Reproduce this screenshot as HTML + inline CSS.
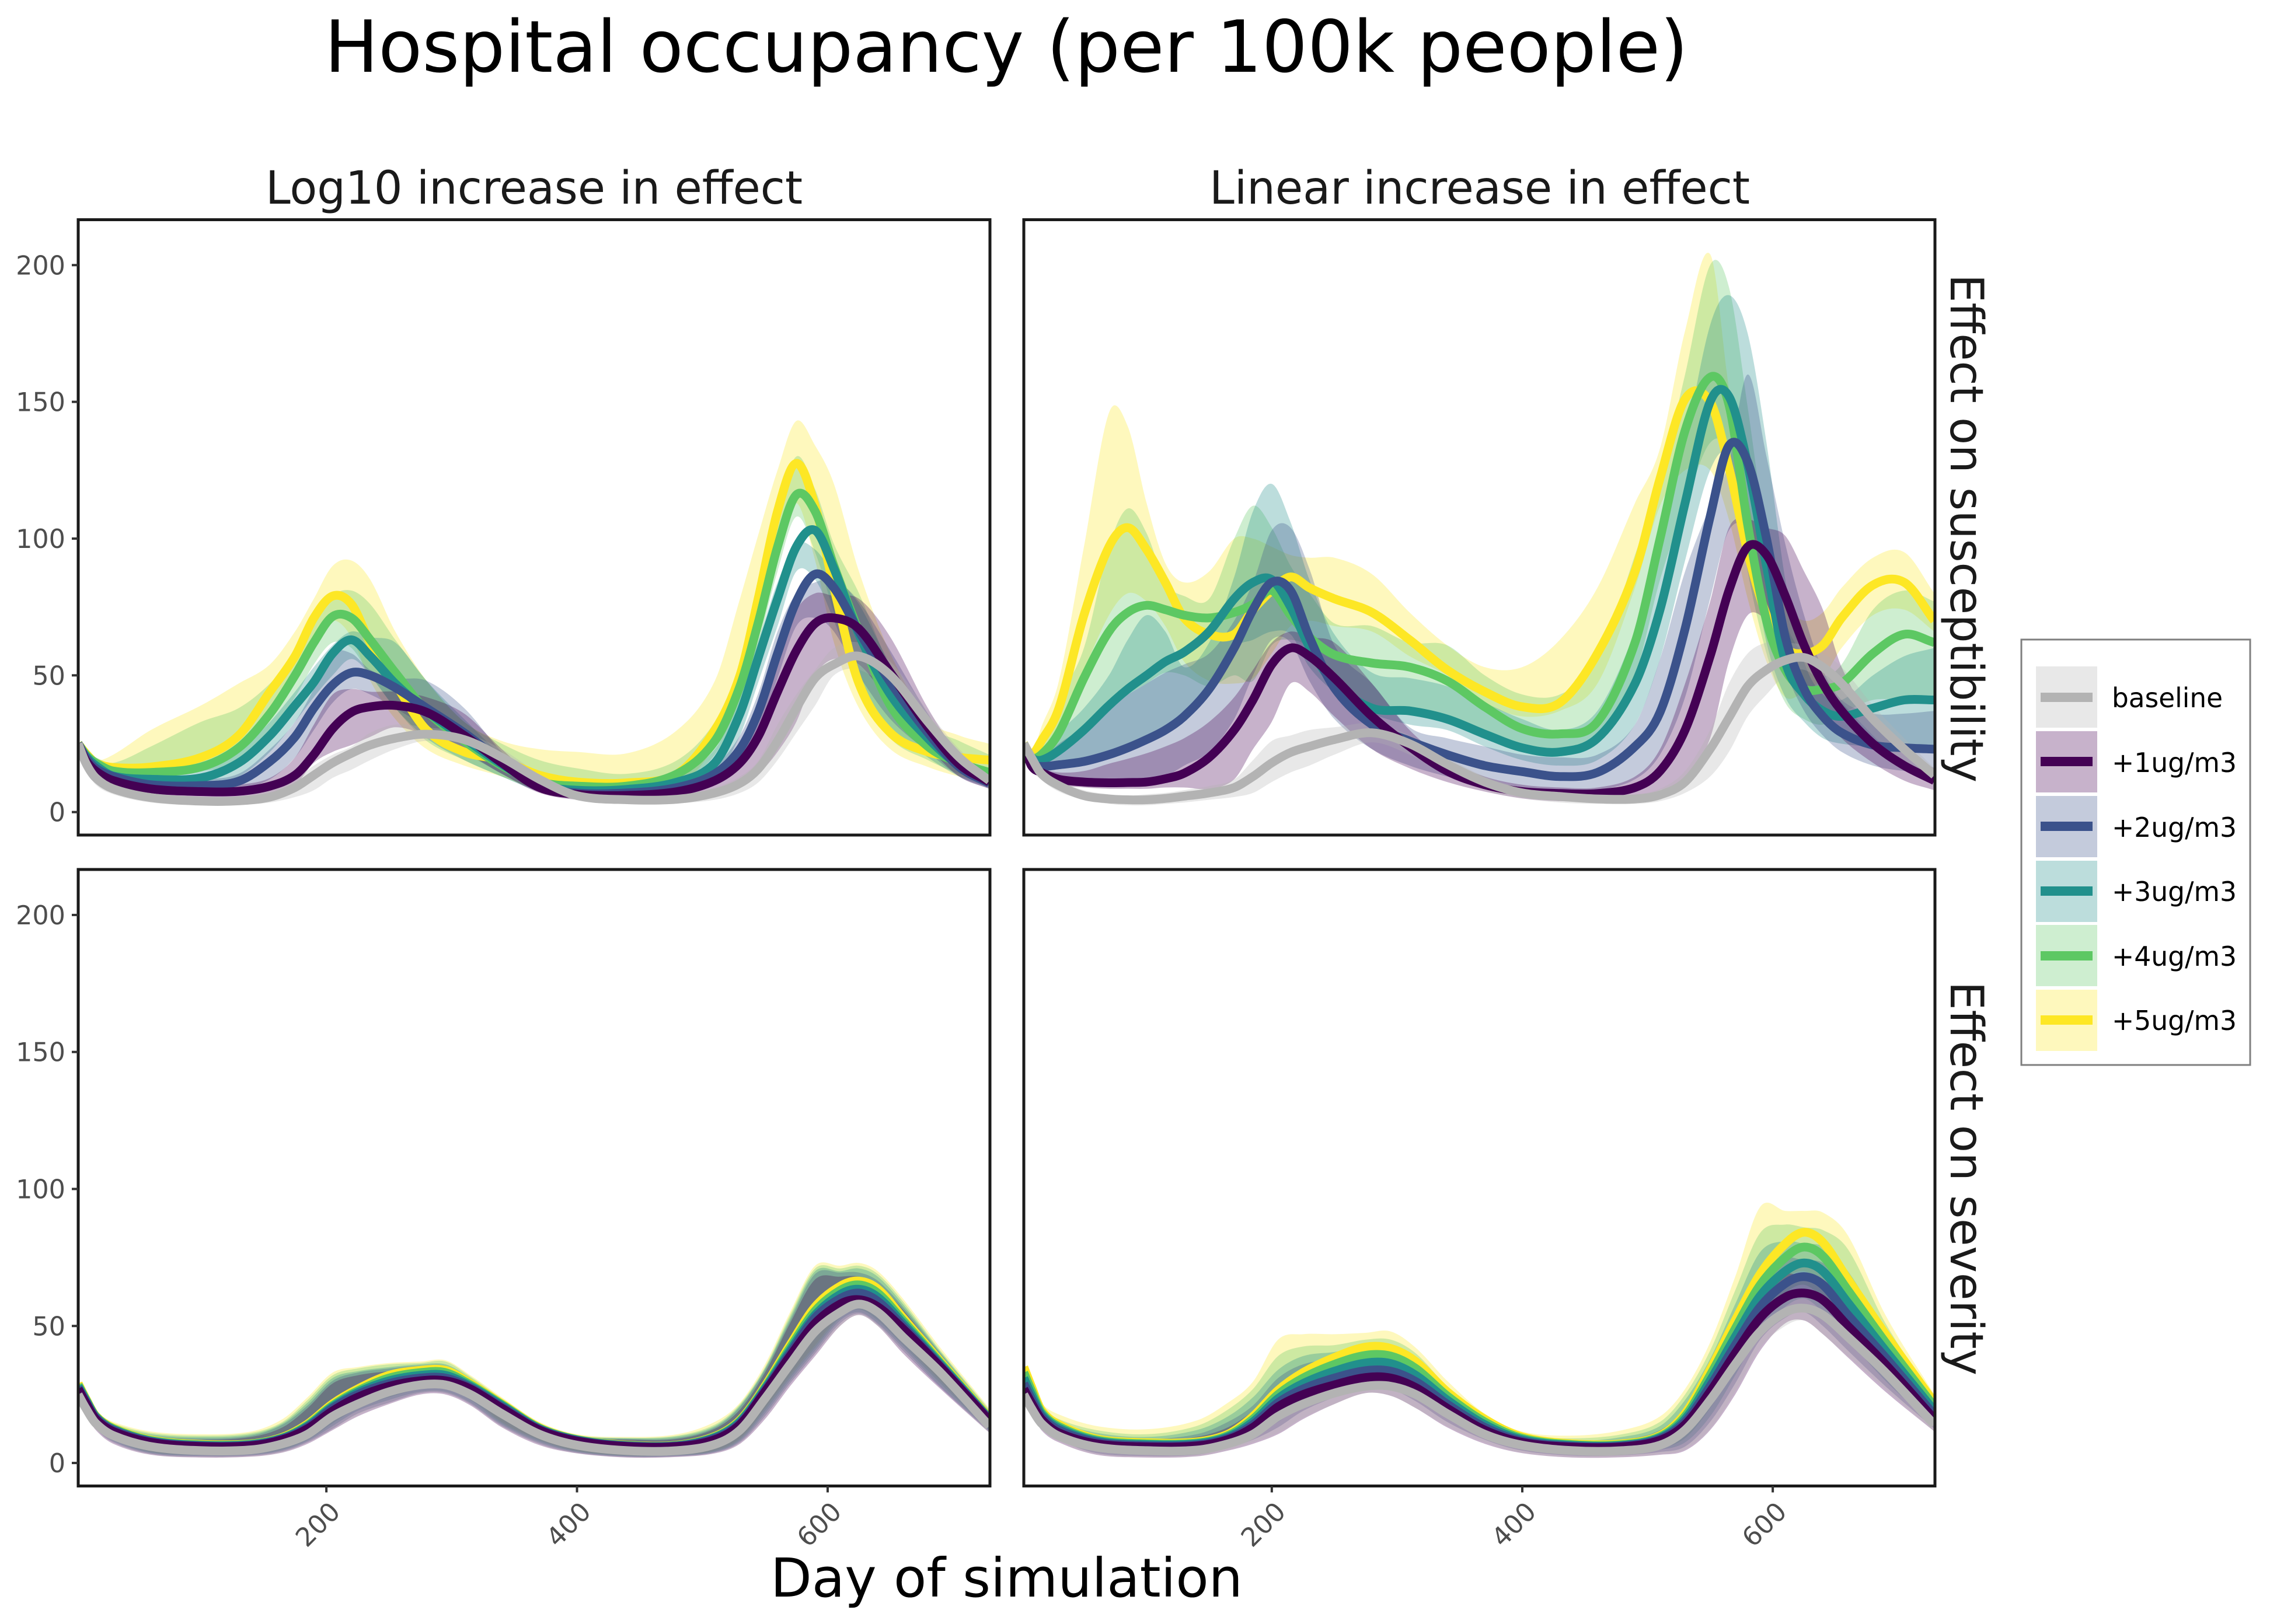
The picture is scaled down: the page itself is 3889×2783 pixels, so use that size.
<!DOCTYPE html>
<html lang="en">
<head>
<meta charset="utf-8">
<title>Hospital occupancy (per 100k people)</title>
<style>
html,body{margin:0;padding:0;background:#fff;}
svg{display:block;}
text{font-family:"DejaVu Sans","Liberation Sans",sans-serif;}
</style>
</head>
<body>
<svg id="chart" xmlns="http://www.w3.org/2000/svg" width="3889" height="2783" viewBox="0 0 3889 2783">
<rect x="0" y="0" width="3889" height="2783" fill="#fff"/>
<text x="556" y="123" font-size="123" fill="#000" textLength="2336" lengthAdjust="spacingAndGlyphs">Hospital occupancy (per 100k people)</text>
<text x="455" y="349" font-size="78" fill="#1a1a1a" textLength="920" lengthAdjust="spacingAndGlyphs">Log10 increase in effect</text>
<text x="2072" y="349" font-size="78" fill="#1a1a1a" textLength="926" lengthAdjust="spacingAndGlyphs">Linear increase in effect</text>
<text transform="translate(3342,470) rotate(90)" font-size="78" fill="#1a1a1a" textLength="871" lengthAdjust="spacingAndGlyphs">Effect on susceptibility</text>
<text transform="translate(3342,1682) rotate(90)" font-size="78" fill="#1a1a1a" textLength="675" lengthAdjust="spacingAndGlyphs">Effect on severity</text>
<text x="1320" y="2736" font-size="92" fill="#000" textLength="809" lengthAdjust="spacingAndGlyphs">Day of simulation</text>
<g id="panels"></g>
<g>
<rect x="3463" y="1096" width="392" height="729" fill="#fff" stroke="#7f7f7f" stroke-width="3"/>
<g><rect x="3488" y="1142" width="105" height="105" fill="#B3B3B3" fill-opacity="0.3"/><rect x="3496" y="1187" width="89" height="16" fill="#B3B3B3"/><text x="3618" y="1212" font-size="46" fill="#000" textLength="190" lengthAdjust="spacingAndGlyphs">baseline</text></g>
<g><rect x="3488" y="1253" width="105" height="105" fill="#440154" fill-opacity="0.3"/><rect x="3496" y="1297" width="89" height="16" fill="#440154"/><text x="3618" y="1323" font-size="46" fill="#000" textLength="214" lengthAdjust="spacingAndGlyphs">+1ug/m3</text></g>
<g><rect x="3488" y="1364" width="105" height="105" fill="#3B528B" fill-opacity="0.3"/><rect x="3496" y="1408" width="89" height="16" fill="#3B528B"/><text x="3618" y="1434" font-size="46" fill="#000" textLength="214" lengthAdjust="spacingAndGlyphs">+2ug/m3</text></g>
<g><rect x="3488" y="1475" width="105" height="105" fill="#21908C" fill-opacity="0.3"/><rect x="3496" y="1519" width="89" height="16" fill="#21908C"/><text x="3618" y="1544" font-size="46" fill="#000" textLength="214" lengthAdjust="spacingAndGlyphs">+3ug/m3</text></g>
<g><rect x="3488" y="1585" width="105" height="105" fill="#5DC863" fill-opacity="0.3"/><rect x="3496" y="1630" width="89" height="16" fill="#5DC863"/><text x="3618" y="1655" font-size="46" fill="#000" textLength="214" lengthAdjust="spacingAndGlyphs">+4ug/m3</text></g>
<g><rect x="3488" y="1696" width="105" height="105" fill="#FDE725" fill-opacity="0.3"/><rect x="3496" y="1740" width="89" height="16" fill="#FDE725"/><text x="3618" y="1765" font-size="46" fill="#000" textLength="214" lengthAdjust="spacingAndGlyphs">+5ug/m3</text></g>
</g>
</svg>
<script>
// Tick labels
const yTicks=[0,50,100,150,200];
const xTicks=[200,400,600];

// Panel 1: log10 increase, effect on susceptibility
const p1Days=[2,8,16,30,60,100,130,155,175,190,205,220,235,255,280,310,340,370,400,440,480,510,530,545,560,575,590,605,625,650,680,705,729];
const p1BaseMean=[25,18,12.5,8.5,5.3,4,4.1,5.5,9,13.5,18,21.5,24.5,27,28.5,26.5,20,12,6,4.5,4.7,7,10.5,16,26,38,49,54,57,50,33,20,11.5];
const p1BaseLo=[24,16,10,6.5,3.5,2.5,2.6,3.5,5.5,8,12.5,15.5,19,23,26,23,16.5,9,4.5,3,3.2,4.5,7,11,19,29,39,50,52,44,28,16,9.5];
const p1BaseHi=[26,19,14,10,7,5.5,5.8,8,12,17,21,24,29,32,31,29,23,14,7.5,6,6.3,9,13,19,32,43,52,60,62,55,37,23,13.5];
const p1U1Mean=[25,19,15,11.5,8.5,7.5,7.6,9.5,13.5,21,30.5,36.5,38.5,39,36.5,28,18,9,6.5,6.1,7.5,11.5,18,28,44,59,69,71,67,51,31,17.5,11];
const p1U1Lo=[24,17,12.5,9,6.5,5.5,5.5,7,10,18,22,24.5,27.5,31,28,22,14,7,4.5,4,4.5,6,9,14,22,33,50,56,54,40,24,13,8.5];
const p1U1Hi=[26,20,16,13,10,9,10,12.5,20,32,43,45,44,44,42,36,23,11.5,8.5,8,9,14,24,38,58,74,80,79,78,64,38,21,13];
const p1U2Mean=[25,20,16,13,10,9.7,11.3,18.5,27.5,38,46.5,51,50,45.5,38,29,18.5,9.5,7,7,9,14,23,37,58,77,87,82,66,47.5,29,16.5,10.5];
const p1U2Lo=[24,18,14,11,8.5,8,8.5,12,20,30,40,45,43,38,31,22,14,7.5,5,5,6.5,10,17,29,49,68,71,66,50,34,22,13,8.5];
const p1U2Hi=[26,21,17.5,14.5,12,12,14,23,33,45,58,58,52,49,48,38,22,11,8.5,8.5,11,17,28,44,66,80,84,85,77,59,36,20,13];
const p1U3Mean=[25,20.5,17,13.2,12,12.5,18,28,39,47.5,58,63,57,47,37,27,17.5,10,8,8.3,11,18,36,57,78,97,103,89,65,43,27,17,11.5];
const p1U3Lo=[24,19,15,11.5,10,10,13,22,33,42,50,56,50,38,27,19,13,7.5,5.5,6,7.5,13,28,48,68,88,85,70,47,31,20,13,9];
const p1U3Hi=[26,21.5,18.5,15,14,16,22,33,44,53,61,66,64,62,48,34,21,13,11,11,14,23,42,63,84,98,96,87,76,54,33,21,14];
const p1U4Mean=[25,21,18,15,14.5,16.5,23.5,36,50,62,71.5,71,63,51,37,26,17,11,9.5,9.5,14,26,46,70,97,116,110,90,66,39,24,18,14.5];
const p1U4Lo=[24,20,16,14,13,15,18,30,42,54,62,60,50,38,26,19,13,8,6,6.5,10,21,40,62,88,108,95,73,46,27,19,14,11];
const p1U4Hi=[26,22,20,18,24,33,38,47,58,68,79,81,76,63,48,33,25,19,16,14,19,33,54,77,109,130,118,98,80,53,32,26,21];
const p1U5Mean=[25,21.5,18,16.3,16.5,20,28,44,57,71,79,76,62,47,30,22,19,13.5,11,10.7,14,30,50,79,110,127.5,112,82,47,29,22,20,19];
const p1U5Lo=[24,20.5,16,14.5,14.5,17,25,38,50,62,70,64,48,34,23,17,13,8,6.5,6.5,9,24,43,68,96,113,92,62,38,23,16.5,13,11];
const p1U5Hi=[26,22.5,19,21,30,39,47,54,66,78,90,92,85,66,48,33,26,23,22,21.5,30,48,78,102,125,143,134,120,88,58,34,28,25];

// Panel 2: linear increase, effect on susceptibility
const p2Days=[2,8,16,30,50,70,85,100,115,130,150,170,185,200,215,230,250,280,310,340,370,400,430,460,490,510,530,550,565,580,595,610,625,640,655,680,705,729];
const p2BaseMean=[25,20,14,9.7,6,4.8,4.5,4.5,5,5.8,7,9,13,18,21.8,24,26.5,29,25,17.5,11,7,5.7,4.8,4.8,6.3,11,23,34.5,46,52,55.5,56.5,53,47,34,23,13.5];
const p2BaseLo=[24,18,12,7.5,4.5,3,2.5,2.5,3,3.5,4.5,5.5,7,11,14.5,17,21,25.5,21,14,8,5,3.5,3,3,4,7,13,22,35,43,50,52,47,40,28,17,10];
const p2BaseHi=[26,21,16,11.5,8,6.5,6,6.5,7,8,9.5,12,19,26,28,30,31,32.5,28,20,13,9,7.5,6.5,6.5,8.5,15,30,47,58,62,62,61,58,53,39,27,16];
const p2U1Mean=[25,17,14.5,12,11,10.7,10.8,11,12.2,14.2,20,30,41,54,60,57,49,35,24,15,10,7.5,6.8,6.8,9,15,30,57,81,97,94,79,61,47,37,25,17,11.5];
const p2U1Lo=[24,15.5,13,10,9,8.5,8.5,8.5,9,9,8.5,12,23,33,47,44,35,23,16,11,7.5,5,4,4,5.5,8,12,27,55,72,70,60,46,36,27,18,11.5,8];
const p2U1Hi=[26,18.5,16,14.5,15,17.7,19.5,21.5,24,27,33,42,52,62,66,64,62,47,30,19,13,10,9,9,13,23,47,77,104,107,104,101,88,74,53,33,22,16];
const p2U2Mean=[25,18,16.7,17.3,18.5,21,23.5,26.5,30,35,45,60,74,84,81,64,45.4,32,26,21,17,14.8,13,14.5,24,36.5,67,108,134,128,100,64,45,35,29,24.5,23.5,23];
const p2U2Lo=[24,17,14,12.5,11.5,11,11,11.5,13,17,22,34,50,63,62,48,34,23,17,13,10,8,7,8,12,21,42,78,103,102,76,52,37,28,22,17,15,14];
const p2U2Hi=[26,19,19,25,31,39,43,47,51,54,58,70,84,103,104,89,61,47,31,27,24,21,20,21,32,56,88,112,128,160,130,98,72,52,41,36,36,37];
const p2U3Mean=[25,20,19,22.5,30,39,45,50,55,58.5,66,78,84,85,75,60.5,47,38,37,34,28.5,23.5,22,27,47,74,113,150,152,127,90,55,43,37,35,38,41,41];
const p2U3Lo=[24,18,16.5,17,18,21,24,27,30,35,45,60,63,66,65,53,44,36,32,30,24,19,17,19,32,56,92,125,130,100,62,42,33,27,25,24,24,24];
const p2U3Hi=[26,19.5,21,29,38,50,63,72,66,53,62,86,110,120,106,85,65,51,49,46,40,34,30,37,66,96,135,178,189,175,135,85,55,43,41,50,57,60];
const p2U4Mean=[25,20,21,29,49,66,73,75.6,74,72,71,73,76,81,72,64,57.5,54.5,53,48,38.5,30.5,28.6,33,62,100,139.5,159,149,105,70,52,45,45,47,58,65,62];
const p2U4Lo=[24,18,19,22,30,38,43,47,51,50,46,50,48,61,63,60,48,38,36,34,29,24,22,27,50,85,112,135,130,88,58,40,34,32,36,41,41,42];
const p2U4Hi=[26,20,25,41,60,97,111,102,84,79,78,100,112,104,90,80,69,68,62,61,50,43,43,55,94,122,160,200,192,148,100,70,57,50,54,74,81,77];
const p2U5Mean=[25,21,26,38,72,97,104,96,84,71,65,65,74,81,86,82,78,73,63,52,44,38.5,40,58,88,122,151,150,126,95,72,60,58,61,71,83,84,70];
const p2U5Lo=[24,19,21,32,52,72,80,77,68,55,48,47,49,58,68,70,68,66,57,50,40,35,37,47,82,112,125,125,107,78,55,42,44,49,60,72,74,66];
const p2U5Hi=[26,21,31,48,97,146,141,113,91,84,88,100,100,97,94,93,93,87,73,61,53,53,63,82,113,133,176,204,155,115,90,76,70,73,82,93,95,80];

// Panel 3: log10 increase, effect on severity
const p3Days=[2,8,16,30,60,100,140,165,185,205,225,250,275,295,315,340,370,400,440,480,510,530,550,570,590,610,625,640,660,690,729];
const p3BaseMean=[25,20,14.5,10,6,4.5,4.8,7,10.5,17,21.5,26,28.5,28.5,25,18,10.5,6.5,4.5,4.5,6.8,12,23.5,36,48,55,58,55,46,33,13.5];
const p3BaseLo=[24,18.5,12.5,7.5,3.2,2.2,2.5,4,7.5,12.5,17.5,22,25.5,25.5,21.5,13.5,7,3.7,2.2,2.4,3.8,7.5,17,29,40,50,54,50,41,28,11];
const p3BaseHi=[26,21,16,11.5,7.5,6,6.5,9,14,21.5,26,30,31.5,31.5,28,21,13,8.5,6.5,6.5,9,16,29,44,56,62,63,60,51,37,16];
const p3U1Mean=[27,22,16,11.5,7.5,6,6.3,8.5,12.5,19,24,28,30,30,27,20,12,8,6,6,8.5,14,26,39,51,58,59.6,57,49,35,15.5];
const p3U1Lo=[24,18,12,7,3,2,2.3,3.8,7,12,17,21.5,25,25,21,13,6.5,3.5,2,2.2,3.5,7,16,28,39,50,54,50,40,27,11];
const p3U1Hi=[28,23,17.5,13,9.5,8.5,9.5,13,20,29,32,33.5,34.5,34.5,30,22,13.5,9.5,8.5,8.8,12.5,19.5,33,51,67,68,68,65,56,39,18];
const p3U2Mean=[27.5,22.5,16.5,12,7.8,6.2,6.5,8.8,13,20,25,29,31,31,27.5,20.5,12.3,8.2,6.2,6.2,9,14.5,26.5,40,53,60,62,59,50,35.5,15.8];
const p3U2Lo=[24.5,18.5,12.5,7.5,3.3,2.3,2.6,4.2,7.5,12.5,18,22,25.5,25.5,21.5,13.5,7,3.7,2.2,2.4,3.8,7.5,17,29,40,51,54.5,50.5,41,27.5,11.3];
const p3U2Hi=[28.5,23.5,18,13.5,10,9,10,14,21,30,33,34.5,35.5,35.5,30.5,22.5,14,9.8,8.8,9.2,13,20.5,34,52,69,69.5,69.5,66.5,57,40,18.5];
const p3U3Mean=[28,23,16.8,12.2,8,6.4,6.7,9,13.4,20.5,25.7,30,32,32,28,21,12.5,8.4,6.3,6.3,9.3,15,27,41,54,61.5,63.4,60.5,51,36,16];
const p3U3Lo=[25,19,13,8,3.6,2.6,2.9,4.6,8,13.5,19,23,26,26,22,14,7.5,4,2.4,2.6,4,8,18,30,41,52,55,51,42,28,11.7];
const p3U3Hi=[29,24,18,14,10.5,9.5,10.5,14.5,22,31,33.5,35,36,36,31,23,14.3,10,9,9.7,13.5,21,34.5,53,70,70,71,68,58,40.5,19];
const p3U4Mean=[28.5,23.3,17,12.5,8.2,6.6,6.9,9.2,13.8,21,26.3,31,33,33,28.5,21.3,12.7,8.5,6.4,6.4,9.5,15.3,27.5,42,55.5,63,65,62,52,36.5,16.2];
const p3U4Lo=[25.5,19.5,13.5,8.5,3.9,2.9,3.2,5,8.5,14.5,20,24,27,27,23,14.5,8,4.2,2.6,2.8,4.3,8.5,19,31,42,53,56,52,43,29,12];
const p3U4Hi=[29.5,24.5,18.5,14.5,11,10,11,15,23,32,34.5,36,36.5,37,31.5,23.5,14.6,10.2,9.2,10,14,21.5,35,54,71,71,72,69,59,41,19.5];
const p3U5Mean=[29,23.6,17.2,12.7,8.4,6.8,7,9.4,14.2,21.6,27,32,33.8,33.8,29,21.6,12.9,8.6,6.5,6.5,9.7,15.6,28,43,57,64.5,66.4,63.5,53,37,16.5];
const p3U5Lo=[26,20,14,9,4.2,3.2,3.5,5.4,9,15.5,21,25,28,28,24,15,8.5,4.5,2.8,3,4.6,9,20,32,43,54,57,53,44,30,12.5];
const p3U5Hi=[30,25,19,15,11.5,10.5,11.5,16,24,33,35,36.5,37,37.5,32,24,15,10.5,9.5,10.5,15,22,36,55,72,72,73,70,60,42,20];

// Panel 4: linear increase, effect on severity
const p4Days=[2,8,16,30,60,100,140,165,185,205,225,250,275,295,315,340,370,400,440,480,510,530,550,570,590,610,625,640,660,690,729];
const p4BaseMean=[25,20,14.5,9.8,5.8,4.5,4.7,7,10.5,17,21.5,25.5,28,28,25,18,10.5,6.5,4.5,4.5,6.5,12,23,36,48,55,56.5,54,46,33,14];
const p4BaseLo=[24,18.5,12.5,8,3.3,2.3,2.6,4.8,7.5,11,16.5,21.5,25.5,24.5,20,13.5,7.5,3.8,2.2,2.3,3.2,5,12.5,26,42,50,52,47,39,27,11.5];
const p4BaseHi=[26,21,15.5,11.5,7.5,6,6.5,9,13.5,21,26,29.5,31.5,31.5,28,20.5,12.5,8,6,6,8.5,15,27,42,54,60,62,59,51,36,16];
const p4U1Mean=[27,22,16,11,7,5.9,6.2,8.5,13,20.5,25,28.5,31.2,31,27.5,20,12,7.5,5.8,5.9,8.3,14,26,40,53,60.5,62,59.5,50,36,16];
const p4U1Lo=[25,19,12,7.5,3,2,2.4,4.5,7,10.5,16,21.5,25.5,24.5,20,13,7,3.6,2,2.1,3,4.5,12,25,41,51,52,47,38.5,26,11.5];
const p4U1Hi=[29,23.5,17,13,9.2,8,9.5,13,19,27,32,34.5,36,36,31.5,23,14,9,7,7.5,11,18,31,48,64,69,68,67,58,41,18.5];
const p4U2Mean=[29,23.5,17,12,7.6,6.3,6.6,9,14,22,27,31,33.7,33.5,29.7,21.5,13,8,6.1,6.2,8.8,15,28,43,57,65.5,68,65,54,38.5,17.5];
const p4U2Lo=[26,20,13,8.5,3.6,2.5,3,5.5,8.5,13,19,24,28,27,22.5,15,8.5,4.5,2.7,2.8,4,6,15,29,45,53,55,50,41,28,12.5];
const p4U2Hi=[31,25,18,14,10,8.7,10.5,15,21,31,36,38,39.5,39.5,34.5,24.5,15,9.5,7.5,8.5,12,20,34,53,71,75,74,73,64,44,20];
const p4U3Mean=[31,25,17.8,12.7,8,6.7,7,9.5,15,23.5,29,33.5,36.5,36.3,32,23,14,8.5,6.4,6.4,9.2,16,30,46,61,70,73,70,58.5,41,19];
const p4U3Lo=[27,21,14,9.2,4.2,3,3.5,6.3,10,15,21,26,30,29.5,24.5,16.5,9.5,5,3.2,3.3,4.8,7.5,17,32,48,57,60,55,45,30,13.5];
const p4U3Hi=[33,26.5,19,15,11,9.5,12,17,24,34,39,40.5,42.5,42.5,37,26,16,10,8,9.5,13.5,23,38,58,77,81,80,79,70,48,22];
const p4U4Mean=[33,26.5,18.5,13.3,8.4,7,7.3,10,16,25,31,36,39.3,39,34.5,24.5,15,9,6.7,6.7,9.6,17,32,49,65,75,78.8,75.5,63,44,20.5];
const p4U4Lo=[28,22,14.8,10,4.8,3.5,4,7,11,17,23,28,32,31.5,26.5,18,10.5,5.5,3.6,3.7,5.5,9,20,35,52,62,65,60,49,33,14.5];
const p4U4Hi=[35,28,20.5,16,12,10.5,13.5,19.5,27,39,42.5,43,45,45,40,28,17,10.5,9,10.5,15,25,41,63,84,87,86,85,78,51,23.5];
const p4U5Mean=[35,28,19.3,14,8.8,7.4,7.7,10.5,17,26.5,33,38.5,42.3,41.8,37,26,16,9.5,7,7,10,18,34,52,69,80,84.2,80.5,67,47,22];
const p4U5Lo=[29,23,15.5,10.7,5.4,4,4.5,7.8,12,19,25,30,34,33.5,28.5,19.5,11.5,6,4,4.2,6,10,22,38,56,67,70,65,53,36,16];
const p4U5Hi=[36,30,22,17.7,13.5,12.3,15.5,22,29.7,45,47,47,47.5,48,42,30,18,11.5,10,12,17,27,44,68,93.5,92,92,91.4,83,54,25];

const SVGNS='http://www.w3.org/2000/svg';
const xDomain=[2,729.5];
const yDomain=[-8.4,216.6];

const seriesStyle=[
  {key:'5ug',color:'#FDE725'},
  {key:'4ug',color:'#5DC863'},
  {key:'3ug',color:'#21908C'},
  {key:'2ug',color:'#3B528B'},
  {key:'1ug',color:'#440154'},
  {key:'baseline',color:'#B3B3B3'}
];

const panels=[
  {name:'log10-susceptibility',left:134,right:1696,top:376.5,bottom:1431,showY:true,showX:false,days:p1Days,
   series:[[p1U5Mean,p1U5Lo,p1U5Hi],[p1U4Mean,p1U4Lo,p1U4Hi],[p1U3Mean,p1U3Lo,p1U3Hi],[p1U2Mean,p1U2Lo,p1U2Hi],[p1U1Mean,p1U1Lo,p1U1Hi],[p1BaseMean,p1BaseLo,p1BaseHi]]},
  {name:'linear-susceptibility',left:1754,right:3315,top:376.5,bottom:1431,showY:false,showX:false,days:p2Days,
   series:[[p2U5Mean,p2U5Lo,p2U5Hi],[p2U4Mean,p2U4Lo,p2U4Hi],[p2U3Mean,p2U3Lo,p2U3Hi],[p2U2Mean,p2U2Lo,p2U2Hi],[p2U1Mean,p2U1Lo,p2U1Hi],[p2BaseMean,p2BaseLo,p2BaseHi]]},
  {name:'log10-severity',left:134,right:1696,top:1490,bottom:2546.5,showY:true,showX:true,days:p3Days,
   series:[[p3U5Mean,p3U5Lo,p3U5Hi],[p3U4Mean,p3U4Lo,p3U4Hi],[p3U3Mean,p3U3Lo,p3U3Hi],[p3U2Mean,p3U2Lo,p3U2Hi],[p3U1Mean,p3U1Lo,p3U1Hi],[p3BaseMean,p3BaseLo,p3BaseHi]]},
  {name:'linear-severity',left:1754,right:3315,top:1490,bottom:2546.5,showY:false,showX:true,days:p4Days,
   series:[[p4U5Mean,p4U5Lo,p4U5Hi],[p4U4Mean,p4U4Lo,p4U4Hi],[p4U3Mean,p4U3Lo,p4U3Hi],[p4U2Mean,p4U2Lo,p4U2Hi],[p4U1Mean,p4U1Lo,p4U1Hi],[p4BaseMean,p4BaseLo,p4BaseHi]]}
];

function xScale(p,d){return p.left+(d-xDomain[0])*(p.right-p.left)/(xDomain[1]-xDomain[0]);}
function yScale(p,v){return p.bottom-(v-yDomain[0])*(p.bottom-p.top)/(yDomain[1]-yDomain[0]);}

function curve(xs,ys,moveCmd){
  const n=xs.length;
  const slope=[];
  for(let i=0;i<n;i++){
    const a=Math.max(0,i-1),b=Math.min(n-1,i+1);
    slope.push((ys[b]-ys[a])/(xs[b]-xs[a]));
  }
  let s=moveCmd+xs[0].toFixed(1)+' '+ys[0].toFixed(1);
  for(let i=0;i<n-1;i++){
    const h=(xs[i+1]-xs[i])/3;
    s+=' C'+(xs[i]+h).toFixed(1)+' '+(ys[i]+slope[i]*h).toFixed(1)+' '+(xs[i+1]-h).toFixed(1)+' '+(ys[i+1]-slope[i+1]*h).toFixed(1)+' '+xs[i+1].toFixed(1)+' '+ys[i+1].toFixed(1);
  }
  return s;
}

function make(tag,parent){
  const el=document.createElementNS(SVGNS,tag);
  parent.appendChild(el);
  return el;
}

const root=document.getElementById('panels');

panels.forEach(function(p){
  const g=make('g',root);
  
  

  const bg=make('rect',g);
  
  
  bg.setAttribute('x',p.left);
  bg.setAttribute('y',p.top);
  bg.setAttribute('width',p.right-p.left);
  bg.setAttribute('height',p.bottom-p.top);
  bg.setAttribute('fill','#fff');

  const clip=make('clipPath',g);
  clip.setAttribute('id','clip-'+p.name);
  const clipRect=make('rect',clip);
  clipRect.setAttribute('x',p.left);
  clipRect.setAttribute('y',p.top);
  clipRect.setAttribute('width',p.right-p.left);
  clipRect.setAttribute('height',p.bottom-p.top);

  const marks=make('g',g);
  
  
  marks.setAttribute('clip-path','url(#clip-'+p.name+')');

  const xs=p.days.map(function(d){return xScale(p,d);});

  p.series.forEach(function(s,i){
    const loY=s[1].map(function(v){return yScale(p,v);});
    const hiY=s[2].map(function(v){return yScale(p,v);});
    const rib=make('path',marks);
    
    
    rib.setAttribute('d',curve(xs,hiY,'M')+' '+curve(xs.slice().reverse(),loY.slice().reverse(),'L')+' Z');
    rib.setAttribute('fill',seriesStyle[i].color);
    rib.setAttribute('fill-opacity','0.3');
  });

  p.series.forEach(function(s,i){
    const meanY=s[0].map(function(v){return yScale(p,v);});
    const line=make('path',marks);
    
    
    line.setAttribute('d',curve(xs,meanY,'M'));
    line.setAttribute('fill','none');
    line.setAttribute('stroke',seriesStyle[i].color);
    line.setAttribute('stroke-width','15');
    line.setAttribute('stroke-linejoin','round');
  });

  const border=make('rect',g);
  
  
  border.setAttribute('x',p.left);
  border.setAttribute('y',p.top);
  border.setAttribute('width',p.right-p.left);
  border.setAttribute('height',p.bottom-p.top);
  border.setAttribute('fill','none');
  border.setAttribute('stroke','#1a1a1a');
  border.setAttribute('stroke-width','5');

  if(p.showY){
    yTicks.forEach(function(t){
      const y=yScale(p,t);
      const tick=make('line',g);
      
      
      tick.setAttribute('x1',p.left-11);
      tick.setAttribute('x2',p.left);
      tick.setAttribute('y1',y);
      tick.setAttribute('y2',y);
      tick.setAttribute('stroke','#333');
      tick.setAttribute('stroke-width','4');
      const label=make('text',g);
      
      
      label.setAttribute('x',p.left-22);
      label.setAttribute('y',y+16);
      label.setAttribute('text-anchor','end');
      label.setAttribute('font-size','44.5');
      label.setAttribute('fill','#4D4D4D');
      label.textContent=String(t);
    });
  }
  if(p.showX){
    xTicks.forEach(function(t){
      const x=xScale(p,t);
      const tick=make('line',g);
      
      
      tick.setAttribute('x1',x);
      tick.setAttribute('x2',x);
      tick.setAttribute('y1',p.bottom);
      tick.setAttribute('y2',p.bottom+11);
      tick.setAttribute('stroke','#333');
      tick.setAttribute('stroke-width','4');
      const label=make('text',g);
      
      
      label.setAttribute('transform','translate('+(x-3.7)+','+(p.bottom+76.8)+') rotate(-45)');
      label.setAttribute('text-anchor','middle');
      label.setAttribute('font-size','44.5');
      label.setAttribute('fill','#4D4D4D');
      label.textContent=String(t);
    });
  }
});
</script>
</body>
</html>
